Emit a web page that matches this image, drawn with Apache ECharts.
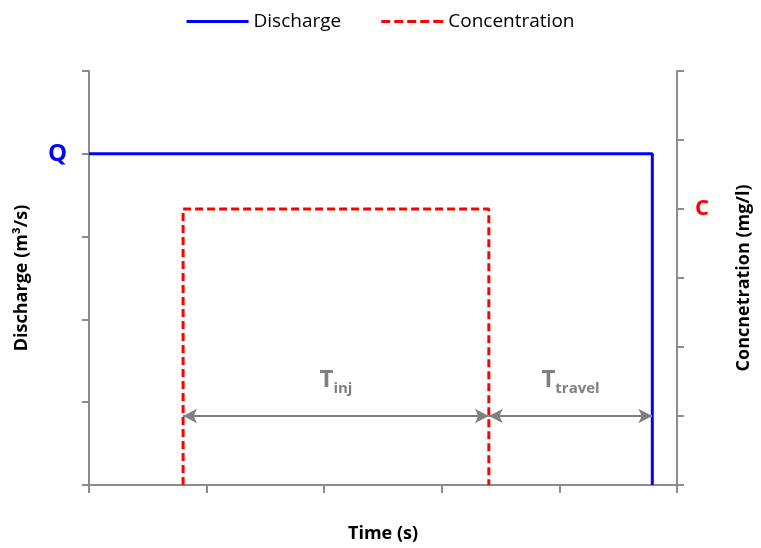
<!DOCTYPE html>
<html><head><meta charset="utf-8">
<script src="https://cdn.jsdelivr.net/npm/echarts@6/dist/echarts.min.js"></script>
<style>html,body{margin:0;padding:0;background:#fff}#c{width:761px;height:548px}</style>
</head><body><div id="c"></div>
<script>
// Data
const seriesNames = ['Discharge', 'Concentration'];
const discharge = [[0, 4], [47.9, 4], [47.9, 0]];          // left axis (Q = 4)
const concentration = [[8, 0], [8, 4], [34, 4], [34, 0]];  // right axis (C = 4)
const tInjArrow = [[8, 1], [34, 1]];
const tTravelArrow = [[34, 1], [47.9, 1]];
const leftTickLabels = {4: 'Q'};
const rightTickLabels = {4: 'C'};
const xTitle = 'Time (s)';
const yLeftTitle = 'Discharge (m³/s)';
const yRightTitle = 'Concnetration (mg/l)';

const gray = '#8c8c8c';
const font = '"Open Sans", "Noto Sans", sans-serif';
const chart = echarts.init(document.getElementById('c'));

const solidIcon = 'path://M0,0h62v3h-62z';
const dashIcon = 'path://M0,0h9v3h-9z M13,0h9v3h-9z M26,0h9v3h-9z M39,0h9v3h-9z M52,0h10v3h-10z';

function arrowMark(pts, main, sub) {
  return {
    silent: true,
    symbol: ['arrow', 'arrow'],
    symbolSize: [11, 14],
    lineStyle: {color: '#808080', width: 2, type: 'solid'},
    label: {
      show: true, position: 'middle', distance: 20,
      formatter: '{a|' + main + '}{b|' + sub + '}',
      rich: {
        a: {fontSize: 24, fontWeight: 'bold', color: '#808080', fontFamily: font},
        b: {fontSize: 15, fontWeight: 'bold', color: '#808080', fontFamily: font, padding: [16, 0, 0, 0]}
      }
    },
    data: [[{coord: pts[0]}, {coord: pts[1]}]]
  };
}

chart.setOption({
  animation: false,
  textStyle: {fontFamily: font},
  legend: {
    top: 7, left: 'center', itemWidth: 62, itemHeight: 3, itemGap: 40,
    textStyle: {fontSize: 19, color: '#000', fontFamily: font},
    data: [{name: seriesNames[0], icon: solidIcon}, {name: seriesNames[1], icon: dashIcon}]
  },
  grid: {left: 89, right: 78, top: 71, bottom: 58},
  xAxis: {
    type: 'value', min: 0, max: 50, interval: 10,
    name: xTitle, nameLocation: 'middle', nameGap: 40,
    nameTextStyle: {fontSize: 18, fontWeight: 'bold', color: '#000', fontFamily: font},
    axisLine: {show: true, onZero: false, lineStyle: {color: gray, width: 2}},
    axisTick: {show: true, length: 8, lineStyle: {color: gray, width: 2}},
    axisLabel: {show: false},
    splitLine: {show: false}
  },
  yAxis: [{
    type: 'value', min: 0, max: 5, interval: 1, position: 'left',
    name: yLeftTitle, nameLocation: 'middle', nameGap: 58, nameRotate: 90,
    nameTextStyle: {fontSize: 18, fontWeight: 'bold', color: '#000', fontFamily: font},
    axisLine: {show: true, lineStyle: {color: gray, width: 2}},
    axisTick: {show: true, length: 7, lineStyle: {color: gray, width: 2}},
    axisLabel: {show: true, margin: 22, fontSize: 24, fontWeight: 'bold', color: '#0000ff',
      formatter: v => leftTickLabels[v] || ''},
    splitLine: {show: false}
  }, {
    type: 'value', min: 0, max: 6, interval: 1, position: 'right',
    name: yRightTitle, nameLocation: 'middle', nameGap: 58, nameRotate: 90,
    nameTextStyle: {fontSize: 18, fontWeight: 'bold', color: '#000', fontFamily: font},
    axisLine: {show: true, lineStyle: {color: gray, width: 2}},
    axisTick: {show: true, length: 7, lineStyle: {color: gray, width: 2}},
    axisLabel: {show: true, margin: 18, fontSize: 22, fontWeight: 'bold', color: '#ff0000',
      formatter: v => rightTickLabels[v] || ''},
    splitLine: {show: false}
  }],
  series: [{
    name: seriesNames[0], type: 'line', yAxisIndex: 0, data: discharge,
    symbol: 'none', color: '#0000ff',
    lineStyle: {color: '#0000ff', width: 3}
  }, {
    name: seriesNames[1], type: 'line', yAxisIndex: 1, data: concentration,
    symbol: 'none', color: '#ff0000',
    lineStyle: {color: '#ff0000', width: 3, type: [8, 4]}
  }, {
    type: 'line', yAxisIndex: 1, data: [], symbol: 'none',
    markLine: arrowMark(tInjArrow, 'T', 'inj')
  }, {
    type: 'line', yAxisIndex: 1, data: [], symbol: 'none',
    markLine: arrowMark(tTravelArrow, 'T', 'travel')
  }]
});
</script></body></html>
